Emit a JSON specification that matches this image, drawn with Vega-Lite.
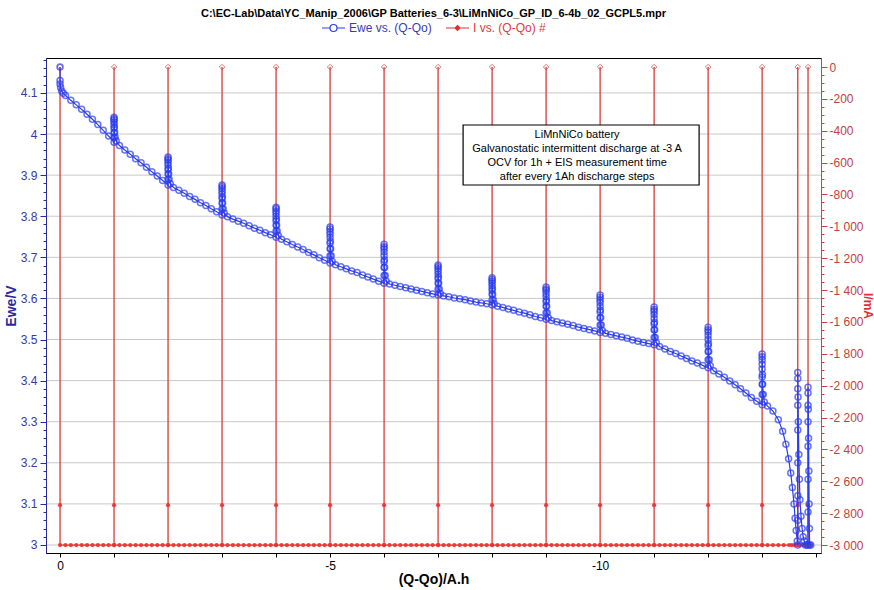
{
"$schema":"https://vega.github.io/schema/vega-lite/v6.json",
"width":775,"height":495,
"autosize":{"type":"none"},
"padding":{"left":46,"top":58,"right":53,"bottom":37},
"background":"white",
"config":{"font":"Liberation Sans","view":{"stroke":"black","strokeWidth":1},"axis":{"labelFont":"Liberation Sans","titleFont":"Liberation Sans"},"legend":{"labelFont":"Liberation Sans"}},
"title":{"text":"C:\\EC-Lab\\Data\\YC_Manip_2006\\GP Batteries_6-3\\LiMnNiCo_GP_ID_6-4b_02_GCPL5.mpr","font":"Liberation Sans","fontSize":11,"fontWeight":"bold","color":"black","anchor":"middle","frame":"group","offset":3},
"datasets":{
"grid":[{"g":3},{"g":3.1},{"g":3.2},{"g":3.3},{"g":3.4},{"g":3.5},{"g":3.6},{"g":3.7},{"g":3.8},{"g":3.9},{"g":4},{"g":4.1}],
"ewe":[
{"q":0,"v":4.163},{"q":0,"v":4.13},{"q":0,"v":4.122},{"q":-0.01,"v":4.113},{"q":-0.03,"v":4.105},{"q":-0.06,"v":4.099},{"q":-0.1,"v":4.094},{"q":-0.2,"v":4.082},{"q":-0.3,"v":4.071},{"q":-0.4,"v":4.06},{"q":-0.5,"v":4.048},{"q":-0.6,"v":4.036},{"q":-0.7,"v":4.023},{"q":-0.8,"v":4.009},{"q":-0.9,"v":3.995},
{"q":-1,"v":3.98},{"q":-1,"v":3.992},{"q":-1,"v":4.004},{"q":-1,"v":4.014},{"q":-1,"v":4.023},{"q":-1,"v":4.029},{"q":-1,"v":4.034},{"q":-1,"v":4.037},{"q":-1,"v":4.041},
{"q":-1.005,"v":4.017},{"q":-1.01,"v":4.004},{"q":-1.02,"v":3.992},{"q":-1.04,"v":3.983},
{"q":-1.1,"v":3.972},{"q":-1.2,"v":3.961},{"q":-1.3,"v":3.951},{"q":-1.4,"v":3.94},{"q":-1.5,"v":3.93},{"q":-1.6,"v":3.919},{"q":-1.7,"v":3.908},{"q":-1.8,"v":3.898},{"q":-1.9,"v":3.887},
{"q":-2,"v":3.876},{"q":-2,"v":3.89},{"q":-2,"v":3.903},{"q":-2,"v":3.913},{"q":-2,"v":3.924},{"q":-2,"v":3.93},{"q":-2,"v":3.936},{"q":-2,"v":3.94},{"q":-2,"v":3.944},
{"q":-2.005,"v":3.917},{"q":-2.01,"v":3.903},{"q":-2.02,"v":3.89},{"q":-2.04,"v":3.879},
{"q":-2.1,"v":3.87},{"q":-2.2,"v":3.863},{"q":-2.3,"v":3.856},{"q":-2.4,"v":3.848},{"q":-2.5,"v":3.841},{"q":-2.6,"v":3.833},{"q":-2.7,"v":3.826},{"q":-2.8,"v":3.818},{"q":-2.9,"v":3.811},
{"q":-3,"v":3.803},{"q":-3,"v":3.818},{"q":-3,"v":3.832},{"q":-3,"v":3.843},{"q":-3,"v":3.854},{"q":-3,"v":3.861},{"q":-3,"v":3.867},{"q":-3,"v":3.872},{"q":-3,"v":3.876},
{"q":-3.005,"v":3.847},{"q":-3.01,"v":3.832},{"q":-3.02,"v":3.818},{"q":-3.04,"v":3.807},
{"q":-3.1,"v":3.799},{"q":-3.2,"v":3.793},{"q":-3.3,"v":3.788},{"q":-3.4,"v":3.783},{"q":-3.5,"v":3.777},{"q":-3.6,"v":3.771},{"q":-3.7,"v":3.766},{"q":-3.8,"v":3.76},{"q":-3.9,"v":3.755},
{"q":-4,"v":3.749},{"q":-4,"v":3.764},{"q":-4,"v":3.778},{"q":-4,"v":3.789},{"q":-4,"v":3.8},{"q":-4,"v":3.807},{"q":-4,"v":3.813},{"q":-4,"v":3.818},{"q":-4,"v":3.822},
{"q":-4.005,"v":3.793},{"q":-4.01,"v":3.778},{"q":-4.02,"v":3.764},{"q":-4.04,"v":3.753},
{"q":-4.1,"v":3.744},{"q":-4.2,"v":3.738},{"q":-4.3,"v":3.731},{"q":-4.4,"v":3.725},{"q":-4.5,"v":3.719},{"q":-4.6,"v":3.712},{"q":-4.7,"v":3.706},{"q":-4.8,"v":3.699},{"q":-4.9,"v":3.693},
{"q":-5,"v":3.686},{"q":-5,"v":3.704},{"q":-5,"v":3.721},{"q":-5,"v":3.734},{"q":-5,"v":3.748},{"q":-5,"v":3.756},{"q":-5,"v":3.763},{"q":-5,"v":3.769},{"q":-5,"v":3.774},
{"q":-5.005,"v":3.739},{"q":-5.01,"v":3.721},{"q":-5.02,"v":3.704},{"q":-5.04,"v":3.69},
{"q":-5.1,"v":3.682},{"q":-5.2,"v":3.677},{"q":-5.3,"v":3.672},{"q":-5.4,"v":3.667},{"q":-5.5,"v":3.663},{"q":-5.6,"v":3.657},{"q":-5.7,"v":3.652},{"q":-5.8,"v":3.647},{"q":-5.9,"v":3.642},
{"q":-6,"v":3.637},{"q":-6,"v":3.656},{"q":-6,"v":3.675},{"q":-6,"v":3.689},{"q":-6,"v":3.704},{"q":-6,"v":3.713},{"q":-6,"v":3.721},{"q":-6,"v":3.726},{"q":-6,"v":3.732},
{"q":-6.005,"v":3.694},{"q":-6.01,"v":3.675},{"q":-6.02,"v":3.656},{"q":-6.04,"v":3.642},
{"q":-6.1,"v":3.635},{"q":-6.2,"v":3.632},{"q":-6.3,"v":3.629},{"q":-6.4,"v":3.626},{"q":-6.5,"v":3.623},{"q":-6.6,"v":3.62},{"q":-6.7,"v":3.617},{"q":-6.8,"v":3.614},{"q":-6.9,"v":3.611},
{"q":-7,"v":3.608},{"q":-7,"v":3.623},{"q":-7,"v":3.637},{"q":-7,"v":3.648},{"q":-7,"v":3.659},{"q":-7,"v":3.666},{"q":-7,"v":3.672},{"q":-7,"v":3.677},{"q":-7,"v":3.681},
{"q":-7.005,"v":3.652},{"q":-7.01,"v":3.637},{"q":-7.02,"v":3.623},{"q":-7.04,"v":3.612},
{"q":-7.1,"v":3.606},{"q":-7.2,"v":3.604},{"q":-7.3,"v":3.601},{"q":-7.4,"v":3.599},{"q":-7.5,"v":3.597},{"q":-7.6,"v":3.594},{"q":-7.7,"v":3.591},{"q":-7.8,"v":3.589},{"q":-7.9,"v":3.587},
{"q":-8,"v":3.584},{"q":-8,"v":3.597},{"q":-8,"v":3.61},{"q":-8,"v":3.62},{"q":-8,"v":3.63},{"q":-8,"v":3.637},{"q":-8,"v":3.642},{"q":-8,"v":3.646},{"q":-8,"v":3.65},
{"q":-8.005,"v":3.624},{"q":-8.01,"v":3.61},{"q":-8.02,"v":3.597},{"q":-8.04,"v":3.587},
{"q":-8.1,"v":3.581},{"q":-8.2,"v":3.578},{"q":-8.3,"v":3.574},{"q":-8.4,"v":3.571},{"q":-8.5,"v":3.567},{"q":-8.6,"v":3.564},{"q":-8.7,"v":3.56},{"q":-8.8,"v":3.556},{"q":-8.9,"v":3.553},
{"q":-9,"v":3.549},{"q":-9,"v":3.565},{"q":-9,"v":3.581},{"q":-9,"v":3.592},{"q":-9,"v":3.604},{"q":-9,"v":3.612},{"q":-9,"v":3.619},{"q":-9,"v":3.623},{"q":-9,"v":3.628},
{"q":-9.005,"v":3.596},{"q":-9.01,"v":3.581},{"q":-9.02,"v":3.565},{"q":-9.04,"v":3.553},
{"q":-9.1,"v":3.546},{"q":-9.2,"v":3.543},{"q":-9.3,"v":3.54},{"q":-9.4,"v":3.537},{"q":-9.5,"v":3.534},{"q":-9.6,"v":3.53},{"q":-9.7,"v":3.527},{"q":-9.8,"v":3.524},{"q":-9.9,"v":3.521},
{"q":-10,"v":3.517},{"q":-10,"v":3.535},{"q":-10,"v":3.553},{"q":-10,"v":3.567},{"q":-10,"v":3.581},{"q":-10,"v":3.59},{"q":-10,"v":3.597},{"q":-10,"v":3.603},{"q":-10,"v":3.608},
{"q":-10.005,"v":3.572},{"q":-10.01,"v":3.553},{"q":-10.02,"v":3.535},{"q":-10.04,"v":3.522},
{"q":-10.1,"v":3.515},{"q":-10.2,"v":3.512},{"q":-10.3,"v":3.509},{"q":-10.4,"v":3.506},{"q":-10.5,"v":3.503},{"q":-10.6,"v":3.499},{"q":-10.7,"v":3.496},{"q":-10.8,"v":3.493},{"q":-10.9,"v":3.49},
{"q":-11,"v":3.487},{"q":-11,"v":3.505},{"q":-11,"v":3.524},{"q":-11,"v":3.538},{"q":-11,"v":3.551},{"q":-11,"v":3.561},{"q":-11,"v":3.568},{"q":-11,"v":3.573},{"q":-11,"v":3.579},
{"q":-11.005,"v":3.542},{"q":-11.01,"v":3.524},{"q":-11.02,"v":3.505},{"q":-11.04,"v":3.492},
{"q":-11.1,"v":3.483},{"q":-11.2,"v":3.477},{"q":-11.3,"v":3.471},{"q":-11.4,"v":3.466},{"q":-11.5,"v":3.46},{"q":-11.6,"v":3.454},{"q":-11.7,"v":3.448},{"q":-11.8,"v":3.443},{"q":-11.9,"v":3.437},
{"q":-12,"v":3.431},{"q":-12,"v":3.451},{"q":-12,"v":3.471},{"q":-12,"v":3.485},{"q":-12,"v":3.5},{"q":-12,"v":3.51},{"q":-12,"v":3.518},{"q":-12,"v":3.524},{"q":-12,"v":3.53},
{"q":-12.005,"v":3.49},{"q":-12.01,"v":3.471},{"q":-12.02,"v":3.451},{"q":-12.04,"v":3.436},
{"q":-12.1,"v":3.424},{"q":-12.2,"v":3.416},{"q":-12.3,"v":3.408},{"q":-12.4,"v":3.399},{"q":-12.5,"v":3.39},{"q":-12.6,"v":3.38},{"q":-12.7,"v":3.37},{"q":-12.8,"v":3.359},{"q":-12.9,"v":3.35},
{"q":-13,"v":3.341},{"q":-13,"v":3.366},{"q":-13,"v":3.391},{"q":-13,"v":3.409},{"q":-13,"v":3.428},{"q":-13,"v":3.44},{"q":-13,"v":3.45},{"q":-13,"v":3.458},{"q":-13,"v":3.465},
{"q":-13.005,"v":3.415},{"q":-13.01,"v":3.391},{"q":-13.02,"v":3.366},{"q":-13.04,"v":3.348},
{"q":-13.1,"v":3.338},{"q":-13.2,"v":3.326},{"q":-13.3,"v":3.305},{"q":-13.38,"v":3.277},{"q":-13.44,"v":3.245},{"q":-13.49,"v":3.21},{"q":-13.53,"v":3.175},{"q":-13.56,"v":3.14},{"q":-13.59,"v":3.1},{"q":-13.61,"v":3.065},{"q":-13.63,"v":3.035},{"q":-13.65,"v":3.01},
{"q":-13.66,"v":3.0},{"q":-13.66,"v":3.06},{"q":-13.66,"v":3.12},{"q":-13.66,"v":3.2},{"q":-13.66,"v":3.28},{"q":-13.66,"v":3.34},{"q":-13.66,"v":3.38},{"q":-13.66,"v":3.405},{"q":-13.66,"v":3.42},
{"q":-13.665,"v":3.36},{"q":-13.67,"v":3.3},{"q":-13.68,"v":3.22},{"q":-13.69,"v":3.16},{"q":-13.7,"v":3.11},{"q":-13.72,"v":3.07},{"q":-13.74,"v":3.04},{"q":-13.76,"v":3.02},{"q":-13.78,"v":3.01},{"q":-13.8,"v":3.0},{"q":-13.83,"v":3.0},
{"q":-13.85,"v":3.0},{"q":-13.85,"v":3.08},{"q":-13.85,"v":3.16},{"q":-13.85,"v":3.24},{"q":-13.85,"v":3.3},{"q":-13.85,"v":3.34},{"q":-13.85,"v":3.37},{"q":-13.85,"v":3.384},
{"q":-13.855,"v":3.33},{"q":-13.86,"v":3.26},{"q":-13.865,"v":3.18},{"q":-13.87,"v":3.1},{"q":-13.875,"v":3.04},{"q":-13.88,"v":3.0},{"q":-13.9,"v":3.0}
],
"cur":[
{"q":0,"i":0},{"q":0,"i":-2750},{"q":0,"i":-3000},{"q":-0.1,"i":-3000},{"q":-0.2,"i":-3000},{"q":-0.3,"i":-3000},{"q":-0.4,"i":-3000},{"q":-0.5,"i":-3000},{"q":-0.6,"i":-3000},{"q":-0.7,"i":-3000},{"q":-0.8,"i":-3000},{"q":-0.9,"i":-3000},
{"q":-1,"i":-3000},{"q":-1,"i":0},{"q":-1,"i":-2750},{"q":-1,"i":-3000},{"q":-1.1,"i":-3000},{"q":-1.2,"i":-3000},{"q":-1.3,"i":-3000},{"q":-1.4,"i":-3000},{"q":-1.5,"i":-3000},{"q":-1.6,"i":-3000},{"q":-1.7,"i":-3000},{"q":-1.8,"i":-3000},{"q":-1.9,"i":-3000},
{"q":-2,"i":-3000},{"q":-2,"i":0},{"q":-2,"i":-2750},{"q":-2,"i":-3000},{"q":-2.1,"i":-3000},{"q":-2.2,"i":-3000},{"q":-2.3,"i":-3000},{"q":-2.4,"i":-3000},{"q":-2.5,"i":-3000},{"q":-2.6,"i":-3000},{"q":-2.7,"i":-3000},{"q":-2.8,"i":-3000},{"q":-2.9,"i":-3000},
{"q":-3,"i":-3000},{"q":-3,"i":0},{"q":-3,"i":-2750},{"q":-3,"i":-3000},{"q":-3.1,"i":-3000},{"q":-3.2,"i":-3000},{"q":-3.3,"i":-3000},{"q":-3.4,"i":-3000},{"q":-3.5,"i":-3000},{"q":-3.6,"i":-3000},{"q":-3.7,"i":-3000},{"q":-3.8,"i":-3000},{"q":-3.9,"i":-3000},
{"q":-4,"i":-3000},{"q":-4,"i":0},{"q":-4,"i":-2750},{"q":-4,"i":-3000},{"q":-4.1,"i":-3000},{"q":-4.2,"i":-3000},{"q":-4.3,"i":-3000},{"q":-4.4,"i":-3000},{"q":-4.5,"i":-3000},{"q":-4.6,"i":-3000},{"q":-4.7,"i":-3000},{"q":-4.8,"i":-3000},{"q":-4.9,"i":-3000},
{"q":-5,"i":-3000},{"q":-5,"i":0},{"q":-5,"i":-2750},{"q":-5,"i":-3000},{"q":-5.1,"i":-3000},{"q":-5.2,"i":-3000},{"q":-5.3,"i":-3000},{"q":-5.4,"i":-3000},{"q":-5.5,"i":-3000},{"q":-5.6,"i":-3000},{"q":-5.7,"i":-3000},{"q":-5.8,"i":-3000},{"q":-5.9,"i":-3000},
{"q":-6,"i":-3000},{"q":-6,"i":0},{"q":-6,"i":-2750},{"q":-6,"i":-3000},{"q":-6.1,"i":-3000},{"q":-6.2,"i":-3000},{"q":-6.3,"i":-3000},{"q":-6.4,"i":-3000},{"q":-6.5,"i":-3000},{"q":-6.6,"i":-3000},{"q":-6.7,"i":-3000},{"q":-6.8,"i":-3000},{"q":-6.9,"i":-3000},
{"q":-7,"i":-3000},{"q":-7,"i":0},{"q":-7,"i":-2750},{"q":-7,"i":-3000},{"q":-7.1,"i":-3000},{"q":-7.2,"i":-3000},{"q":-7.3,"i":-3000},{"q":-7.4,"i":-3000},{"q":-7.5,"i":-3000},{"q":-7.6,"i":-3000},{"q":-7.7,"i":-3000},{"q":-7.8,"i":-3000},{"q":-7.9,"i":-3000},
{"q":-8,"i":-3000},{"q":-8,"i":0},{"q":-8,"i":-2750},{"q":-8,"i":-3000},{"q":-8.1,"i":-3000},{"q":-8.2,"i":-3000},{"q":-8.3,"i":-3000},{"q":-8.4,"i":-3000},{"q":-8.5,"i":-3000},{"q":-8.6,"i":-3000},{"q":-8.7,"i":-3000},{"q":-8.8,"i":-3000},{"q":-8.9,"i":-3000},
{"q":-9,"i":-3000},{"q":-9,"i":0},{"q":-9,"i":-2750},{"q":-9,"i":-3000},{"q":-9.1,"i":-3000},{"q":-9.2,"i":-3000},{"q":-9.3,"i":-3000},{"q":-9.4,"i":-3000},{"q":-9.5,"i":-3000},{"q":-9.6,"i":-3000},{"q":-9.7,"i":-3000},{"q":-9.8,"i":-3000},{"q":-9.9,"i":-3000},
{"q":-10,"i":-3000},{"q":-10,"i":0},{"q":-10,"i":-2750},{"q":-10,"i":-3000},{"q":-10.1,"i":-3000},{"q":-10.2,"i":-3000},{"q":-10.3,"i":-3000},{"q":-10.4,"i":-3000},{"q":-10.5,"i":-3000},{"q":-10.6,"i":-3000},{"q":-10.7,"i":-3000},{"q":-10.8,"i":-3000},{"q":-10.9,"i":-3000},
{"q":-11,"i":-3000},{"q":-11,"i":0},{"q":-11,"i":-2750},{"q":-11,"i":-3000},{"q":-11.1,"i":-3000},{"q":-11.2,"i":-3000},{"q":-11.3,"i":-3000},{"q":-11.4,"i":-3000},{"q":-11.5,"i":-3000},{"q":-11.6,"i":-3000},{"q":-11.7,"i":-3000},{"q":-11.8,"i":-3000},{"q":-11.9,"i":-3000},
{"q":-12,"i":-3000},{"q":-12,"i":0},{"q":-12,"i":-2750},{"q":-12,"i":-3000},{"q":-12.1,"i":-3000},{"q":-12.2,"i":-3000},{"q":-12.3,"i":-3000},{"q":-12.4,"i":-3000},{"q":-12.5,"i":-3000},{"q":-12.6,"i":-3000},{"q":-12.7,"i":-3000},{"q":-12.8,"i":-3000},{"q":-12.9,"i":-3000},
{"q":-13,"i":-3000},{"q":-13,"i":0},{"q":-13,"i":-2750},{"q":-13,"i":-3000},{"q":-13.1,"i":-3000},{"q":-13.2,"i":-3000},{"q":-13.3,"i":-3000},{"q":-13.4,"i":-3000},{"q":-13.5,"i":-3000},{"q":-13.55,"i":-3000},{"q":-13.6,"i":-3000},
{"q":-13.66,"i":-3000},{"q":-13.66,"i":0},{"q":-13.66,"i":-2750},{"q":-13.66,"i":-3000},{"q":-13.7,"i":-3000},{"q":-13.75,"i":-3000},{"q":-13.8,"i":-3000},
{"q":-13.85,"i":-3000},{"q":-13.85,"i":0},{"q":-13.85,"i":-2750},{"q":-13.85,"i":-3000},{"q":-13.9,"i":-3000}
]
},
"layer":[
{"data":{"name":"grid"},
 "mark":{"type":"rule","color":"#c8c8c8","strokeWidth":1},
 "encoding":{
  "y":{"field":"g","type":"quantitative","scale":{"domain":[2.9805,4.185],"nice":false,"zero":false},
   "axis":{"orient":"left","values":[3,3.02,3.04,3.06,3.08,3.1,3.12,3.14,3.16,3.18,3.2,3.22,3.24,3.26,3.28,3.3,3.32,3.34,3.36,3.38,3.4,3.42,3.44,3.46,3.48,3.5,3.52,3.54,3.56,3.58,3.6,3.62,3.64,3.66,3.68,3.7,3.72,3.74,3.76,3.78,3.8,3.82,3.84,3.86,3.88,3.9,3.92,3.94,3.96,3.98,4,4.02,4.04,4.06,4.08,4.1,4.12,4.14,4.16,4.18],
    "labelExpr":"abs(datum.value*10-round(datum.value*10))<0.001 ? format(datum.value,'.1~f') : ''",
    "tickSize":{"condition":{"test":"abs(datum.value*10-round(datum.value*10))<0.001","value":6},"value":3},
    "zindex":1,
    "grid":false,"domainColor":"#2828a0","tickColor":"#2828a0","labelColor":"#3838a8","labelFontSize":12,"labelPadding":3,"labelOverlap":false,"labelBound":false,"labelFlush":false,
    "title":"Ewe/V","titleColor":"#2a2aa0","titleFontWeight":"bold","titleFontSize":14,"titlePadding":2}}}},
{"data":{"name":"cur"},
 "mark":{"type":"line","color":"#d83a3a","strokeWidth":1.3},
 "encoding":{
  "x":{"field":"q","type":"quantitative","scale":{"domain":[-14.09,0.26],"reverse":true,"nice":false,"zero":false},
   "axis":{"orient":"bottom","values":[0,-1,-2,-3,-4,-5,-6,-7,-8,-9,-10,-11,-12,-13,-14],
    "labelExpr":"datum.value % 5 == 0 ? (datum.value == 0 ? '0' : '-' + abs(datum.value)) : ''",
    "title":"(Q-Qo)/A.h","titleFontWeight":"bold","titleFontSize":14,"titleColor":"black","titlePadding":1,"zindex":1,
    "domainColor":"black","tickColor":"black","tickSize":4,"labelColor":"black","labelFontSize":12,"labelPadding":3,"grid":false,"labelFlush":false,"labelOverlap":false,"labelBound":false}},
  "y":{"field":"i","type":"quantitative","scale":{"domain":[-3050,56.5],"nice":false,"zero":false},
   "axis":{"orient":"right","values":[0,-50,-100,-150,-200,-250,-300,-350,-400,-450,-500,-550,-600,-650,-700,-750,-800,-850,-900,-950,-1000,-1050,-1100,-1150,-1200,-1250,-1300,-1350,-1400,-1450,-1500,-1550,-1600,-1650,-1700,-1750,-1800,-1850,-1900,-1950,-2000,-2050,-2100,-2150,-2200,-2250,-2300,-2350,-2400,-2450,-2500,-2550,-2600,-2650,-2700,-2750,-2800,-2850,-2900,-2950,-3000],
    "labelExpr":"datum.value % 200 == 0 ? (datum.value == 0 ? '0' : '-' + replace(format(abs(datum.value), ','), ',', ' ')) : ''",
    "tickSize":{"condition":{"test":"datum.value % 200 == 0","value":6},"value":3},
    "zindex":1,
    "grid":false,"domainColor":"#d04040","tickColor":"#d04040","labelColor":"#c83c3c","labelFontSize":12,"labelPadding":2,"labelOverlap":false,"labelBound":false,"labelFlush":false,
    "title":"I/mA","titleColor":"#dd3030","titleFontWeight":"bold","titleFontSize":12,"titleAngle":90,"titlePadding":-3}},
  "order":{"value":null}}},
{"data":{"name":"cur"},
 "transform":[{"filter":"datum.i != 0"}],
 "mark":{"type":"point","shape":"circle","filled":true,"size":18,"color":"#f03030","opacity":0.9},
 "encoding":{
  "x":{"field":"q","type":"quantitative","scale":{"domain":[-14.09,0.26],"reverse":true,"nice":false,"zero":false}},
  "y":{"field":"i","type":"quantitative","scale":{"domain":[-3050,56.5],"nice":false,"zero":false},"axis":null}}},
{"data":{"name":"cur"},
 "transform":[{"filter":"datum.i == 0"}],
 "mark":{"type":"point","shape":"diamond","filled":false,"size":30,"strokeWidth":1,"color":"#e03a3a"},
 "encoding":{
  "x":{"field":"q","type":"quantitative","scale":{"domain":[-14.09,0.26],"reverse":true,"nice":false,"zero":false}},
  "y":{"field":"i","type":"quantitative","scale":{"domain":[-3050,56.5],"nice":false,"zero":false},"axis":null}}},
{"data":{"name":"ewe"},
 "mark":{"type":"line","strokeWidth":1.2},
 "encoding":{
  "x":{"field":"q","type":"quantitative","scale":{"domain":[-14.09,0.26],"reverse":true,"nice":false,"zero":false}},
  "y":{"field":"v","type":"quantitative","scale":{"domain":[2.9805,4.185],"nice":false,"zero":false},"axis":null},
  "order":{"value":null},
  "color":{"datum":"Ewe vs. (Q-Qo)","type":"nominal","scale":{"domain":["Ewe vs. (Q-Qo)","I vs. (Q-Qo) #"],"range":["#2a3cf0","#dd3333"]},
   "legend":{"orient":"none","legendX":281.5,"legendY":-36,"direction":"horizontal","columns":2,"title":null,"symbolSize":100,"labelFontSize":12,"labelOffset":9.5,"columnPadding":11,
    "encode":{
     "symbols":{"update":{
      "shape":{"signal":"datum.value == 'Ewe vs. (Q-Qo)' ? 'M-2.3,0L-0.7,0M0.7,0L2.3,0M-0.7,0A0.7,0.7,0,1,1,0.7,0A0.7,0.7,0,1,1,-0.7,0' : 'M-2.3,0L2.3,0M0,-0.5L0.5,0L0,0.5L-0.5,0Z'"},
      "stroke":{"signal":"datum.value == 'Ewe vs. (Q-Qo)' ? '#2a3cf0' : '#dd3333'"},
      "fill":{"signal":"datum.value == 'Ewe vs. (Q-Qo)' ? 'transparent' : '#dd3333'"},
      "strokeWidth":{"value":1.2},"opacity":{"value":1}}},
     "labels":{"update":{"fill":{"signal":"datum.value == 'Ewe vs. (Q-Qo)' ? '#3a3ab8' : '#dd3a3a'"}}}}}}}},
{"data":{"name":"ewe"},
 "mark":{"type":"point","shape":"circle","filled":false,"size":36,"strokeWidth":1.5,"color":"#2a3cf0"},
 "encoding":{
  "x":{"field":"q","type":"quantitative","scale":{"domain":[-14.09,0.26],"reverse":true,"nice":false,"zero":false}},
  "y":{"field":"v","type":"quantitative","scale":{"domain":[2.9805,4.185],"nice":false,"zero":false},"axis":null}}},
{"data":{"values":[{"note":"box"}]},
 "mark":{"type":"rect","fill":"white","stroke":"black","strokeWidth":1.2},
 "encoding":{
  "x":{"datum":-7.463,"type":"quantitative","scale":{"domain":[-14.09,0.26],"reverse":true,"nice":false,"zero":false}},
  "x2":{"datum":-11.833},
  "y":{"datum":4.022,"type":"quantitative","scale":{"domain":[2.9805,4.185],"nice":false,"zero":false},"axis":null},
  "y2":{"datum":3.876}}},
{"data":{"values":[{"note":"text"}]},
 "mark":{"type":"text","fontSize":11,"lineHeight":14,"align":"center","baseline":"middle","color":"black","font":"Liberation Sans"},
 "encoding":{
  "x":{"datum":-9.574,"type":"quantitative","scale":{"domain":[-14.09,0.26],"reverse":true,"nice":false,"zero":false}},
  "y":{"datum":3.9976,"type":"quantitative","scale":{"domain":[2.9805,4.185],"nice":false,"zero":false},"axis":null},
  "text":{"value":["LiMnNiCo  battery","Galvanostatic intermittent discharge at -3 A","OCV for 1h + EIS measurement time","after every 1Ah discharge steps"]}}}
],
"resolve":{"scale":{"y":"independent"}}
}
